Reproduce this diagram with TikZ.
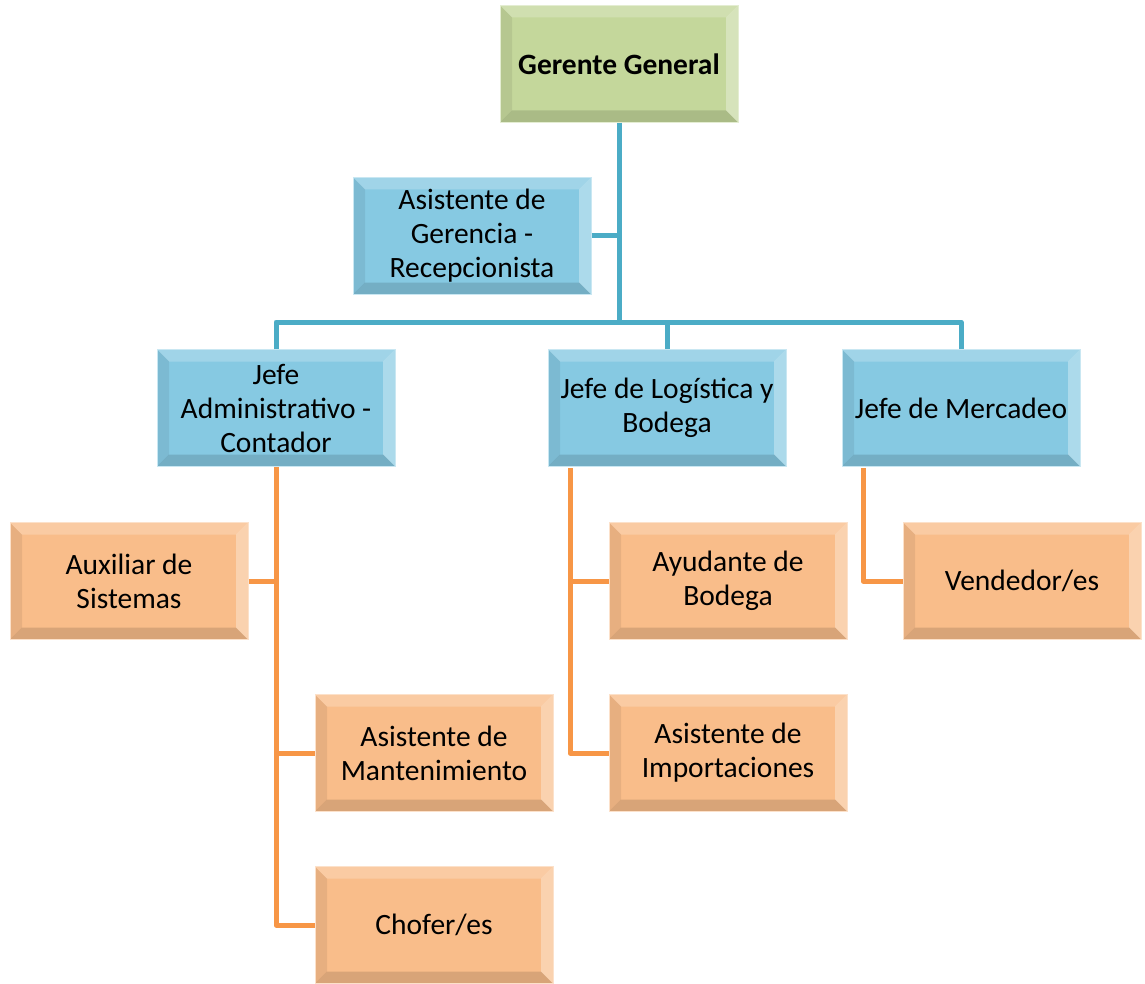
\documentclass[tikz,border=0pt]{standalone}
\usepackage{fontspec}
\setmainfont{Carlito}
\usetikzlibrary{calc}
\definecolor{ggfill}{HTML}{C4D79B}
\definecolor{bxfill}{HTML}{86C9E2}
\definecolor{orfill}{HTML}{F9BD8A}
\definecolor{blueline}{HTML}{4BACC6}
\definecolor{orline}{HTML}{F79646}
\tikzset{
  x=1pt, y=-1pt,
  bevel/.style={
    path picture={
      \def\bw{12pt}
      \coordinate (pNW) at (path picture bounding box.north west);
      \coordinate (pNE) at (path picture bounding box.north east);
      \coordinate (pSW) at (path picture bounding box.south west);
      \coordinate (pSE) at (path picture bounding box.south east);
      \fill[white, opacity=0.22] (pNW) -- (pNE) -- ([xshift=-\bw,yshift=-\bw]pNE) -- ([xshift=\bw,yshift=-\bw]pNW) -- cycle;
      \fill[white, opacity=0.32] (pNE) -- (pSE) -- ([xshift=-\bw,yshift=\bw]pSE) -- ([xshift=-\bw,yshift=-\bw]pNE) -- cycle;
      \fill[black, opacity=0.07] (pNW) -- (pSW) -- ([xshift=\bw,yshift=\bw]pSW) -- ([xshift=\bw,yshift=-\bw]pNW) -- cycle;
      \fill[black, opacity=0.13] (pSW) -- (pSE) -- ([xshift=-\bw,yshift=\bw]pSE) -- ([xshift=\bw,yshift=\bw]pSW) -- cycle;
    }},
  orgbox/.style={bevel, rectangle, minimum width=238pt, minimum height=117pt,
    inner sep=0pt, align=center, font=\fontsize{29.5}{34}\selectfont,
    draw=white!55!#1, line width=1pt, fill=#1},
  topbox/.style={orgbox=ggfill},
  midbox/.style={orgbox=bxfill},
  lowbox/.style={orgbox=orfill},
  bline/.style={draw=blueline, line width=5pt, line join=round},
  oline/.style={draw=orline, line width=5pt, line join=round},
}
\begin{document}
\begin{tikzpicture}
\useasboundingbox (0,0) rectangle (1145,984);

% junction points of the connector tree
\coordinate (bus) at (619,322);
\coordinate (ljs) at (570,468);
\coordinate (mjs) at (863,468);

% boxes
\node[topbox] (gg) at (619,64) {\textbf{Gerente General}};
\node[midbox] (ag) at (472,236) {Asistente de\\Gerencia -\\Recepcionista};
\node[midbox] (ja) at (276,408) {Jefe\\Administrativo -\\Contador};
\node[midbox] (jl) at (667,408) {Jefe de Logística y\\Bodega};
\node[midbox] (jm) at (961,408) {Jefe de Mercadeo};
\node[lowbox] (aux) at (129,581) {Auxiliar de\\Sistemas};
\node[lowbox] (man) at (434,753) {Asistente de\\Mantenimiento};
\node[lowbox] (cho) at (434,925) {Chofer/es};
\node[lowbox] (ayu) at (728,581) {Ayudante de\\Bodega};
\node[lowbox] (imp) at (728,753) {Asistente de\\Importaciones};
\node[lowbox] (ven) at (1022,581) {Vendedor/es};

% blue lines: management level
\draw[bline] (gg.south) -- (bus);
\draw[bline] (ag.east) -- (ag.east -| bus);
\draw[bline] (ja.north) |- (bus);
\draw[bline] (bus) -| (jm.north);
\draw[bline] (bus -| jl.north) -- (jl.north);

% orange lines: staff level
\draw[oline] (ja.south) |- (cho.west);
\draw[oline] (aux.east) -- (aux.east -| ja.south);
\draw[oline] (man.west -| ja.south) -- (man.west);
\draw[oline] (ljs) |- (imp.west);
\draw[oline] (ljs |- ayu.west) -- (ayu.west);
\draw[oline] (mjs) |- (ven.west);
\end{tikzpicture}
\end{document}
